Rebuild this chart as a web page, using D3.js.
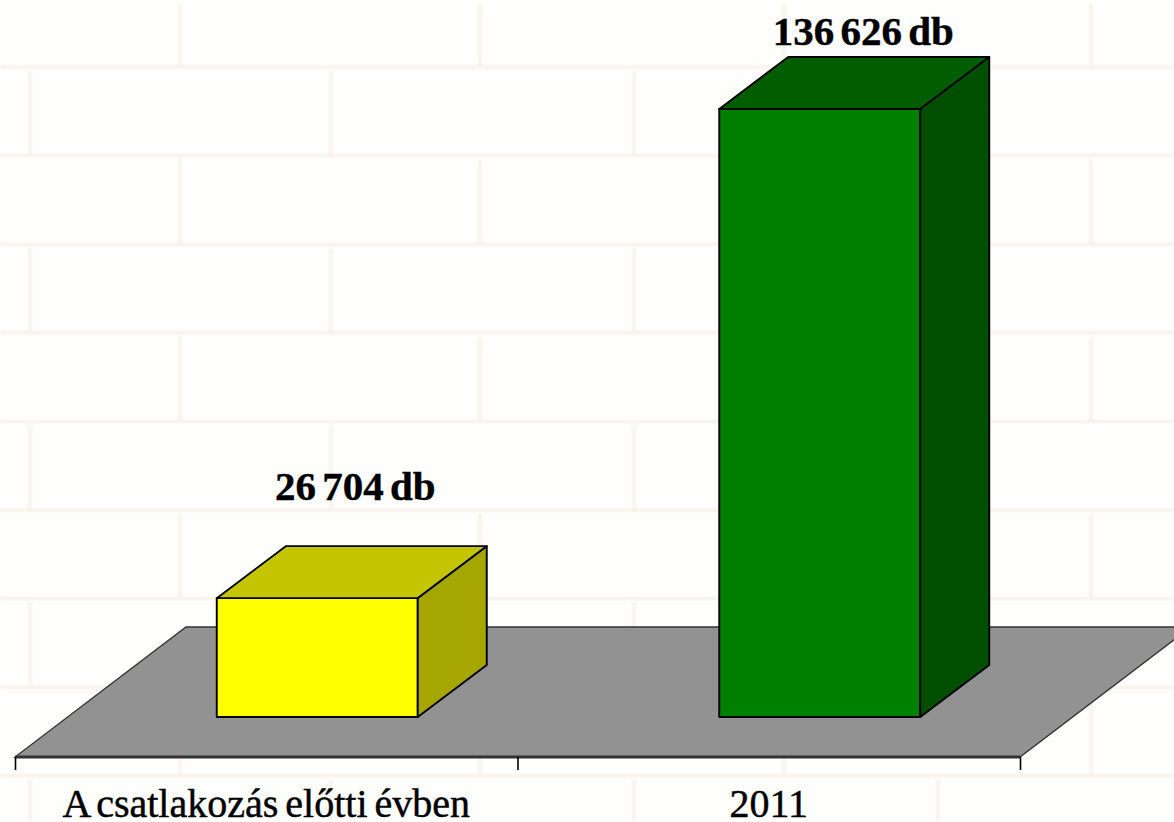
<!DOCTYPE html>
<html>
<head>
    <meta charset="utf-8">
    <title>A csatlakozás előtti évben / 2011</title>
    <script src="https://d3js.org/d3.v7.min.js"></script>
    <style>
        html, body { margin: 0; padding: 0; background: #fefefd; overflow: hidden; }
        svg { display: block; }
        text { font-family: "Liberation Serif", serif; fill: #000; }
        .value { font-size: 41px; font-weight: bold; word-spacing: -4px; stroke: #000; stroke-width: 0.4px; }
        .cat text { font-size: 40px; stroke: #000; stroke-width: 0.45px; word-spacing: -3px; }
    </style>
</head>
<body>
    <div id="chart"></div>
    <script>
        // Data
        const categories = ["A csatlakozás előtti évben", "2011"];
        const values = [26704, 136626];
        const valueLabels = ["26 704 db", "136 626 db"];
        const frontColors = ["#ffff00", "#008000"];
        const topColors = ["#c4c400", "#005e00"];
        const sideColors = ["#a6a600", "#004f00"];

        const width = 1174, height = 822;

        // Oblique projection of the 3D chart
        const floorDx = 171, floorDy = -130;
        const barInsetX = 51;
        const barDepthX = 69, barDepthY = -52;
        const axisY = 757;

        const labelOffset = [[38, -98], [43.5, -64]];

        const svg = d3.select("#chart")
            .append("svg")
            .attr("width", width)
            .attr("height", height);

        // Brick wall background
        svg.append("defs").append("filter")
            .attr("id", "soft")
            .append("feGaussianBlur")
            .attr("stdDeviation", 0.9);

        const wall = svg.append("g")
            .attr("filter", "url(#soft)")
            .style("stroke", "#f6f1e9")
            .style("stroke-width", 3)
            .style("fill", "none");

        const courseY = d3.range(67, height, 88.6);
        wall.selectAll("line.course")
            .data(courseY)
            .enter()
            .append("line")
            .attr("class", "course")
            .attr("x1", 0)
            .attr("x2", width)
            .attr("y1", d => d)
            .attr("y2", d => d);

        const jointsEven = [180, 480, 784, 1091];
        const jointsOdd = [30, 331, 634, 938];
        [0].concat(courseY).forEach((top, i) => {
            const bottom = i < courseY.length ? courseY[i] : height;
            wall.selectAll("line.row" + i)
                .data(i % 2 ? jointsOdd : jointsEven)
                .enter()
                .append("line")
                .attr("class", "row" + i)
                .attr("x1", d => d)
                .attr("x2", d => d)
                .attr("y1", top + 4)
                .attr("y2", bottom - 1);
        });

        // Scales
        const x = d3.scaleBand()
            .domain(categories)
            .range([15, 1020])
            .paddingInner(0.6)
            .paddingOuter(0.3);

        const y = d3.scaleLinear()
            .domain([0, 136626])
            .range([717, 109]);

        const edges = d3.scaleLinear()
            .domain([0, categories.length])
            .range(x.range());

        // Floor
        const [x0, x1] = x.range();
        svg.append("path")
            .attr("d", d3.line()([
                [x0, axisY], [x1, axisY],
                [x1 + floorDx, axisY + floorDy], [x0 + floorDx, axisY + floorDy]
            ]) + "Z")
            .style("fill", "#929292")
            .style("stroke", "#333")
            .style("stroke-width", 1.3);

        // Bars
        const bar = svg.selectAll("g.bar")
            .data(values)
            .enter()
            .append("g")
            .attr("class", "bar")
            .style("stroke", "#000")
            .style("stroke-width", 1.9)
            .style("stroke-linejoin", "round");

        const left = (d, i) => x(categories[i]) + barInsetX;
        const right = (d, i) => left(d, i) + x.bandwidth();
        const base = y(0);
        const poly = pts => d3.line()(pts) + "Z";

        // front face
        bar.append("path")
            .attr("d", (d, i) => poly([
                [left(d, i), base], [right(d, i), base],
                [right(d, i), y(d)], [left(d, i), y(d)]
            ]))
            .style("fill", (d, i) => frontColors[i]);

        // top face
        bar.append("path")
            .attr("d", (d, i) => poly([
                [left(d, i), y(d)], [right(d, i), y(d)],
                [right(d, i) + barDepthX, y(d) + barDepthY], [left(d, i) + barDepthX, y(d) + barDepthY]
            ]))
            .style("fill", (d, i) => topColors[i]);

        // side face
        bar.append("path")
            .attr("d", (d, i) => poly([
                [right(d, i), base], [right(d, i) + barDepthX, base + barDepthY],
                [right(d, i) + barDepthX, y(d) + barDepthY], [right(d, i), y(d)]
            ]))
            .style("fill", (d, i) => sideColors[i]);

        // Axis
        const ticks = svg.append("g")
            .attr("transform", `translate(0,${axisY})`)
            .call(d3.axisBottom(edges)
                .tickValues(d3.range(categories.length + 1))
                .tickSize(13)
                .tickFormat(""));
        ticks.select(".domain")
            .attr("d", `M${x0},0H${x1}`)
            .style("stroke", "#333")
            .style("stroke-width", 3);
        ticks.selectAll(".tick line")
            .style("stroke", "#000")
            .style("stroke-width", 1.6);

        const cat = svg.append("g")
            .attr("class", "cat")
            .attr("transform", "translate(0,788.5)")
            .call(d3.axisBottom(x).tickSize(0).tickPadding(0));
        cat.select(".domain").remove();
        cat.attr("font-family", null).attr("font-size", null);

        // Value labels
        svg.selectAll("text.value")
            .data(values)
            .enter()
            .append("text")
            .attr("class", "value")
            .attr("text-anchor", "middle")
            .attr("x", (d, i) => (left(d, i) + right(d, i)) / 2 + labelOffset[i][0])
            .attr("y", (d, i) => y(d) + labelOffset[i][1])
            .text((d, i) => valueLabels[i]);
    </script>
</body>
</html>
